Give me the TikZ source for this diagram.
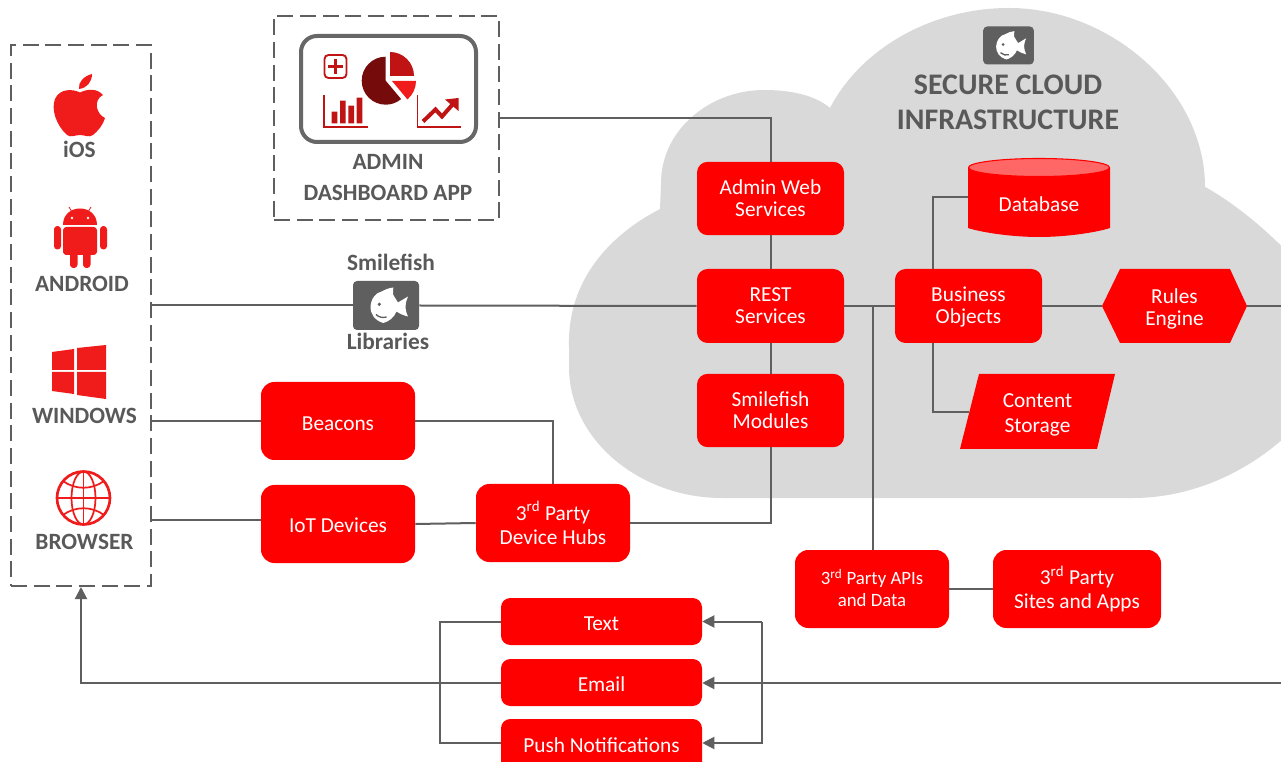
\documentclass[tikz,border=0pt]{standalone}
\usepackage{fontspec}
\setmainfont{Carlito}
\usetikzlibrary{arrows.meta,calc}
\definecolor{linegray}{HTML}{5F5F5F}
\definecolor{labelgray}{HTML}{595959}
\definecolor{cloudgray}{HTML}{D9D9D9}
\definecolor{iconred}{HTML}{F01C1C}
\definecolor{chartred}{HTML}{C01414}
\definecolor{piedark}{HTML}{760B0B}
\definecolor{dbtop}{HTML}{FF6666}
\newcommand{\low}[2]{\raisebox{-#1}[\height][\depth]{#2}}
\newcommand{\fishicon}[3]{%
  \begin{scope}[shift={(#1,#2)},scale=#3]
    \fill[white] (-15.5,1.2) .. controls (-15,-7) and (-10,-13) .. (-4.3,-14)
      .. controls (-1,-16) and (3,-17.5) .. (7.3,-18)
      .. controls (7,-15) and (7,-13) .. (7,-11)
      .. controls (9,-8) and (10.5,-5) .. (12,-3)
      .. controls (15,-5) and (19,-7) .. (22,-9)
      .. controls (20,-4) and (19.5,-1) .. (19.5,1)
      .. controls (19.5,4) and (20.5,8) .. (22,11)
      .. controls (18,10) and (14,8.5) .. (10.5,6)
      .. controls (8,12) and (3,16) .. (-2.7,17.5)
      .. controls (-11,15) and (-15.5,9) .. (-15.5,1.2) -- cycle;
    \fill[linegray] (-6.7,-1.2) circle[radius=1.8];
    \draw[linegray,line width=1pt] (-10,9) .. controls (-7,12) and (-3,12.5) .. (0.6,11.5);
  \end{scope}}
\tikzset{
  x=0.75pt,y=-0.75pt,
  redbox/.style={fill=red,text=white,rounded corners=8pt,inner sep=0pt,align=center,font=\fontsize{16}{16.5}\selectfont},
  plainlabel/.style={text=white,inner sep=0pt,align=center,font=\fontsize{16}{16.5}\selectfont},
  graylabel/.style={text=labelgray,inner sep=0pt,align=center,font=\fontsize{17.5}{22}\selectfont\bfseries},
  dashedframe/.style={draw=linegray,line width=1.5pt,dash pattern=on 12pt off 5pt,inner sep=0pt},
  wire/.style={draw=linegray,line width=1.5pt},
  arrowwire/.style={wire,-{Triangle[length=9pt,width=9pt]}},
  iconbox/.style={fill=linegray,rounded corners=3pt,inner sep=0pt},
}
\begin{document}
\begin{tikzpicture}
\clip (0,0) rectangle (1281,762);
\fill[white] (0,0) rectangle (1281,762);
% cloud
\fill[cloudgray] (830,108) .. controls (860,50) and (930,8) .. (1009,8)
  .. controls (1110,8) and (1205,90) .. (1205,187)
  -- (1207,188) .. controls (1255,215) and (1340,290) .. (1340,350)
  .. controls (1325,420) and (1235,498) .. (1133,498)
  -- (722,498) .. controls (640,498) and (569,440) .. (569,367)
  .. controls (569,355) and (569,350) .. (569,347)
  .. controls (567,280) and (610,235) .. (660,209)
  -- (661,185) .. controls (660,130) and (710,90) .. (764,90)
  .. controls (790,90) and (815,95) .. (830,108) -- cycle;
% frames
\node[dashedframe,minimum width=105pt,minimum height=405.75pt] (clients) at (81,315.5) {};
\node[dashedframe,minimum width=168.75pt,minimum height=153pt] (adminapp) at (386.5,118) {};
% apple
\fill[iconred] (80,92.5) .. controls (73,89) and (60,88) .. (55,99)
  .. controls (51,109) and (56,125) .. (67,135)
  .. controls (71,138) and (75,135) .. (80,135)
  .. controls (85,135) and (89,138) .. (93,135)
  .. controls (98,131) and (103,125) .. (105,118)
  .. controls (96,114) and (93,100) .. (103,95)
  .. controls (97,88) and (87,89) .. (80,92.5) -- cycle;
\fill[iconred] (79,89) .. controls (78,82) and (84,76) .. (92,74) .. controls (92,82) and (87,88) .. (79,89) -- cycle;
\node[graylabel] (ios) at (79.5,149) {iOS};
% android
\fill[iconred] (63,225) .. controls (63,203) and (97,203) .. (97,225) -- cycle;
\draw[iconred,line width=.6pt] (69,207) -- (72,212) (91,207) -- (88,212);
\fill[white] (72,218) circle[radius=1.3] (88,218) circle[radius=1.3];
\fill[iconred,rounded corners=2.5pt] (63,227) rectangle (97,255);
\fill[iconred,rounded corners=2.5pt] (54,226) rectangle (61,249.5);
\fill[iconred,rounded corners=2.5pt] (100,226) rectangle (107,249.5);
\fill[iconred,rounded corners=2.5pt] (70,245) rectangle (77.5,268);
\fill[iconred,rounded corners=2.5pt] (83,245) rectangle (90.5,268);
\node[graylabel] (android) at (82,284) {ANDROID};
% windows
\fill[iconred] (52,352) -- (74,349) -- (74,370) -- (52,370) -- cycle;
\fill[iconred] (77,348) -- (106,345) -- (106,370) -- (77,370) -- cycle;
\fill[iconred] (52,372) -- (74,372) -- (74,394) -- (52,391) -- cycle;
\fill[iconred] (77,372) -- (106,372) -- (106,399) -- (77,395) -- cycle;
\node[graylabel] (windows) at (84.5,416) {WINDOWS};
% browser
\begin{scope}[draw=iconred,line width=1.3pt]
  \draw[line width=2pt] (83.5,498) circle[radius=26.5];
  \draw (83.5,498) ellipse[x radius=12,y radius=26.5];
  \draw (83.5,471.5) -- (83.5,524.5) (57,498) -- (110,498);
  \draw (63,481) .. controls (75,490) and (92,490) .. (104,481);
  \draw (63,515) .. controls (75,506) and (92,506) .. (104,515);
\end{scope}
\node[graylabel] (browser) at (84.5,542) {BROWSER};
% dashboard
\draw[draw=linegray!95!white,line width=3pt,rounded corners=12pt] (301,36) rectangle (476,142);
\draw[draw=chartred,line width=1.4pt,rounded corners=3pt] (324.5,55) rectangle (346.5,78);
\draw[draw=chartred,line width=1.6pt] (335.5,59) -- (335.5,74) (328,66.5) -- (343,66.5);
\fill[piedark] (385.7,80.7) -- (385.7,56.7) arc[start angle=-90,end angle=-270,radius=24] arc[start angle=90,end angle=50,radius=24] -- cycle;
\fill[chartred] (390,76) -- (390,52) arc[start angle=-90,end angle=0,radius=24] -- cycle;
\fill[iconred] (392,81) -- (416,81) arc[start angle=0,end angle=50,radius=24] -- cycle;
\draw[chartred,line width=1.2pt] (324,95) -- (324,127) -- (367.5,127);
\fill[chartred] (331.7,111.7) rectangle (337.3,123.3) (340,100.7) rectangle (345.7,123.3)
  (348.3,105.7) rectangle (354,123.3) (356.7,97.7) rectangle (362.3,123.3);
\draw[chartred,line width=1.2pt] (417.3,95) -- (417.3,127.3) -- (460.7,127.3);
\draw[chartred,line width=3pt] (423,121.5) -- (435.5,109.5) -- (442,116.5) -- (453,104);
\fill[chartred] (458.5,98) -- (458.5,111) -- (445,99.5) -- cycle;
\node[graylabel] (dashlabel) at (388,177.5) {ADMIN\\[1pt]DASHBOARD APP};
% libraries icon
\node[graylabel] (smilelabel) at (391,262.5) {Smilefish};
\node[graylabel] (liblabel) at (388,341) {Libraries};
\node[iconbox,minimum width=49.5pt,minimum height=36.75pt] (lib) at (386,305.5) {};
\fishicon{386}{305.5}{1}
% cloud title
\node[iconbox,minimum width=38pt,minimum height=28.5pt] (cloudicon) at (1008.5,45.5) {};
\fishicon{1008.5}{45.5}{0.8}
\node[text=labelgray,inner sep=0pt,align=center,font=\fontsize{22.4}{26}\selectfont\bfseries] (cloudtitle) at (1008,102.5) {SECURE CLOUD\\INFRASTRUCTURE};
% boxes
\node[redbox,minimum width=110.25pt,minimum height=55pt] (adminweb) at (770.5,198.5) {Admin Web\\Services};
\node[redbox,minimum width=110.25pt,minimum height=55.5pt] (rest) at (770.5,306) {REST\\Services};
\node[redbox,minimum width=110.25pt,minimum height=55pt] (modules) at (770.5,410.5) {Smilefish\\Modules};
\node[redbox,minimum width=110.25pt,minimum height=55.5pt] (business) at (968.5,306) {\low{.75pt}{Business}\\\low{.75pt}{Objects}};
% database
\fill[red] (968,168) -- (968,228) .. controls (980,232) and (1010,237) .. (1039,237)
  .. controls (1068,237) and (1098,232) .. (1110,228) -- (1110,168) -- cycle;
\fill[dbtop,draw=red,line width=.8pt] (1039,167.5) ellipse[x radius=70.5,y radius=9];
\node[minimum width=106.5pt,minimum height=59pt,inner sep=0pt] (db) at (1039,197) {};
\node[plainlabel] (dblabel) at (1039,204.5) {Database};
% rules engine
\fill[red] (1102,306) -- (1120,269) -- (1230,269) -- (1247,306) -- (1230,343) -- (1120,343) -- cycle;
\node[plainlabel,minimum width=108.75pt,minimum height=55.5pt] (rules) at (1174.5,306) {\low{2.25pt}{Rules}\\[.5pt]\low{2.25pt}{Engine}};
% content storage
\fill[red] (979,374) -- (1115,374) -- (1097,449) -- (960,449) -- cycle;
\node[plainlabel,minimum width=102pt,minimum height=56pt,font=\fontsize{16}{18.5}\selectfont] (content) at (1037.5,412) {\low{2.25pt}{Content}\\\low{2.25pt}{Storage}};
% lower boxes
\node[redbox,rounded corners=10pt,minimum width=115.5pt,minimum height=58.5pt] (beacons) at (338,421) {\low{1.9pt}{Beacons}};
\node[redbox,rounded corners=10pt,minimum width=115.5pt,minimum height=58.5pt] (iot) at (338,524) {\low{1.1pt}{IoT Devices}};
\node[redbox,rounded corners=10pt,minimum width=115.5pt,minimum height=58.5pt,font=\fontsize{16}{18}\selectfont] (hubs) at (553,523) {3\textsuperscript{rd} Party\\Device Hubs};
\node[redbox,rounded corners=10pt,minimum width=115.5pt,minimum height=58.5pt,font=\fontsize{14.1}{16.5}\selectfont] (apis) at (872,589) {\low{-.75pt}{3\textsuperscript{rd} Party APIs}\\\low{-.75pt}{and Data}};
\node[redbox,rounded corners=10pt,minimum width=126pt,minimum height=58.5pt,font=\fontsize{16}{18}\selectfont] (sites) at (1077,589) {3\textsuperscript{rd} Party\\Sites and Apps};
\node[redbox,rounded corners=7pt,minimum width=150.75pt,minimum height=35.25pt] (text) at (601.5,621.5) {\low{1.9pt}{Text}};
\node[redbox,rounded corners=7pt,minimum width=150.75pt,minimum height=35.25pt] (email) at (601.5,682.5) {\low{1.5pt}{Email}};
\node[redbox,rounded corners=7pt,minimum width=150.75pt,minimum height=42pt] (push) at (601.5,747) {\low{-1.2pt}{Push Notifications}};
% free ends
\coordinate (rightedge) at (1281,306);
\coordinate (rightedgelow) at (1281,683);
\coordinate (leftbus) at (440,621.5);
\coordinate (rightbus) at (762,621.5);
\coordinate (busjoin) at (873,306);
% connectors
\draw[wire] (adminapp.east |- 0,118) -| (adminweb.north);
\draw[wire] (adminweb.south) -- (rest.north);
\draw[wire] (rest.south) -- (modules.north);
\draw[wire] (modules.south) |- (hubs.east |- 0,522.5);
\draw[wire] (clients.east |- lib.west) -- (lib.west);
\draw[wire] (lib.east) -- (rest.west);
\draw[wire] (rest.east) -- (business.west);
\draw[wire] (business.east) -- (rules.west);
\draw[wire] (rules.east) -- (rightedge);
\draw[wire] (busjoin) -- (apis.north -| busjoin);
\draw[wire] (apis.east) -- (sites.west);
\draw[wire] (business.north -| 933,0) |- (db.west);
\draw[wire] (business.south -| 933,0) |- (content.west);
\draw[wire] (clients.east |- beacons.west) -- (beacons.west);
\draw[wire] (beacons.east) -| (hubs.north);
\draw[wire] (clients.east |- 0,520) -- (iot.west |- 0,520);
\draw[wire] (iot.east) -- (hubs.west);
\draw[wire] (text.west) -- (leftbus) |- (push.west |- 0,743);
\draw[arrowwire] (email.west) -| (clients.south);
\draw[arrowwire] (rightedgelow) -- (email.east |- rightedgelow);
\draw[arrowwire] (rightbus) -- (text.east);
\draw[arrowwire] (rightbus) |- (push.east |- 0,743);
\end{tikzpicture}
\end{document}
